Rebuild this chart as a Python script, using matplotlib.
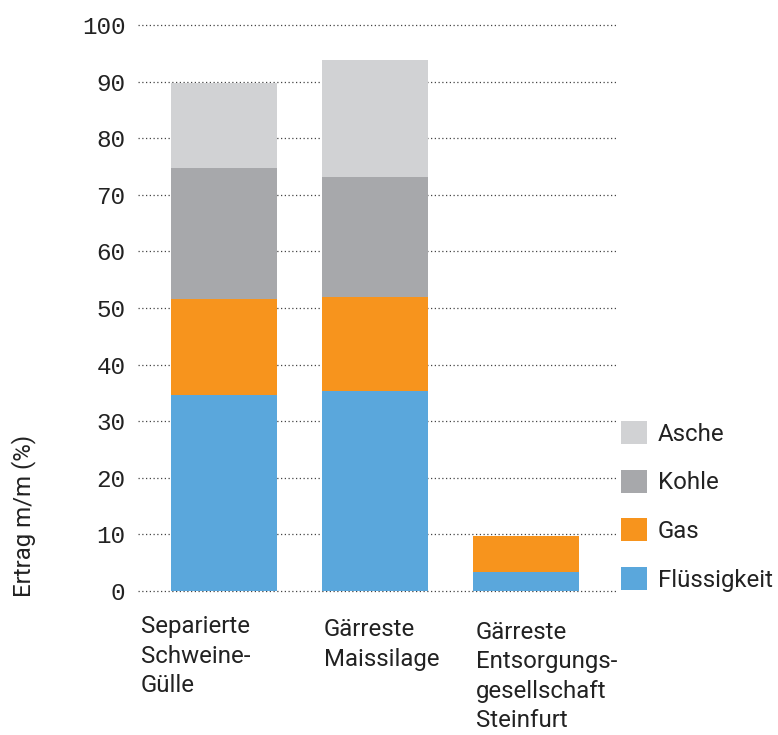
import numpy as np
import matplotlib.pyplot as plt
from matplotlib.transforms import blended_transform_factory

# --- data ---
categories = ['Separierte\nSchweine-\nGülle',
              'Gärreste\nMaissilage',
              'Gärreste\nEntsorgungs-\ngesellschaft\nSteinfurt']
series_names = ['Flüssigkeit', 'Gas', 'Kohle', 'Asche']
fluessigkeit = [34.7, 35.4, 3.3]
gas = [16.9, 16.5, 6.5]
kohle = [23.2, 21.3, 0.0]
asche = [15.0, 20.6, 0.0]
yticks = [0, 10, 20, 30, 40, 50, 60, 70, 80, 90, 100]

colors = {'Flüssigkeit': '#5aa7dc', 'Gas': '#f7941d',
          'Kohle': '#a7a8ab', 'Asche': '#d1d2d4'}

sans = ['Roboto', 'DejaVu Sans']
mono = ['Liberation Mono', 'DejaVu Sans Mono']
fs = 17.3

fig = plt.figure(figsize=(7.78, 7.35), dpi=100)
ax = fig.add_axes([138 / 778, 144 / 735, 479 / 778, 566 / 735])

x = np.arange(len(categories))
bottom = np.zeros(len(categories))
handles = {}
for name, vals in zip(series_names, [fluessigkeit, gas, kohle, asche]):
    vals = np.array(vals)
    b = ax.bar(x, vals, width=0.7, bottom=bottom, color=colors[name],
               linewidth=0, zorder=2)
    handles[name] = b
    bottom += vals

ax.set_xlim(-0.57, 2.6)
ax.set_ylim(0, 100)
ax.set_yticks(yticks)
ax.set_yticklabels([str(t) for t in yticks], family=mono, fontsize=17.5,
                   color='#222222')
ax.tick_params(axis='y', length=0, pad=9)
ax.set_xticks([])
for s in ax.spines.values():
    s.set_visible(False)
for t in yticks:
    ax.axhline(t, color='#444444', lw=0.9, ls=(0, (1, 2)), zorder=1,
               clip_on=False)

# category labels, left aligned under the bars
trans = blended_transform_factory(ax.transData, ax.transAxes)
label_x = [-0.55, 0.66, 1.665]
label_y = [-0.043, -0.048, -0.053]
for lx, ly, txt in zip(label_x, label_y, categories):
    ax.text(lx, ly, txt, transform=trans, ha='left', va='top',
            family=sans, fontsize=fs, color='#222222', linespacing=1.36)

fig.text(24 / 778, 1 - 516 / 735, 'Ertrag m/m (%)', rotation=90,
         ha='center', va='center', family=sans, fontsize=fs,
         color='#222222')

order = ['Asche', 'Kohle', 'Gas', 'Flüssigkeit']
leg = fig.legend([handles[n] for n in order], order,
                 loc='upper left', bbox_to_anchor=(614 / 778, 1 - 414 / 735),
                 frameon=False, prop={'family': sans, 'size': fs},
                 handlelength=1.08, handleheight=1.08, labelspacing=1.0,
                 handletextpad=0.45, borderaxespad=0, borderpad=0.3)
for t in leg.get_texts():
    t.set_color('#222222')

fig.savefig('out.png', dpi=100)
